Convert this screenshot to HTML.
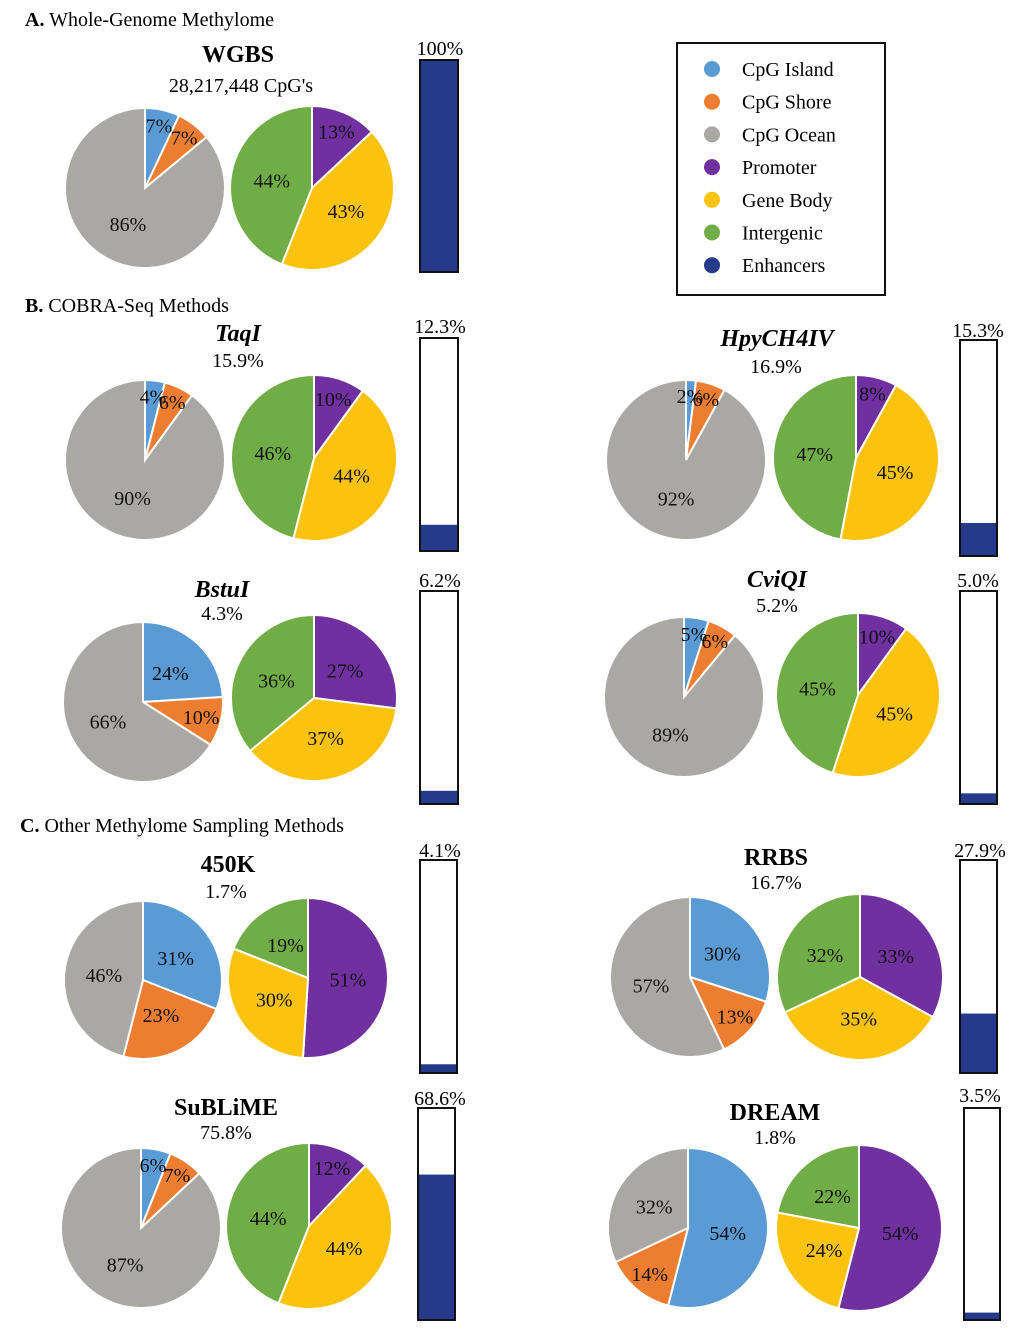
<!DOCTYPE html>
<html><head><meta charset="utf-8">
<style>
body{margin:0;background:#fff;}
svg{display:block;font-family:"Liberation Serif",serif;}
</style></head>
<body>
<svg id="fig" width="1024" height="1337" viewBox="0 0 1024 1337" xmlns="http://www.w3.org/2000/svg">
<text x="25" y="26" font-size="20"><tspan font-weight="bold">A.</tspan> Whole-Genome Methylome</text>
<text x="25" y="312" font-size="20"><tspan font-weight="bold">B.</tspan> COBRA-Seq Methods</text>
<text x="20" y="832" font-size="20"><tspan font-weight="bold">C.</tspan> Other Methylome Sampling Methods</text>
<g id="legend">
<rect x="677" y="43" width="208" height="252" fill="#fff" stroke="#111" stroke-width="2"/>
</g>
<g id="panels"></g>
</svg>
<script>
const panelNames = ["WGBS","TaqI","HpyCH4IV","BstuI","CviQI","450K","RRBS","SuBLiME","DREAM"];
const panelItalic = [false,true,true,true,true,false,false,false,false];
const subtitles = ["28,217,448 CpG's","15.9%","16.9%","4.3%","5.2%","1.7%","16.7%","75.8%","1.8%"];
const cpgIsland = [7,4,2,24,5,31,30,6,54];
const cpgShore = [7,6,6,10,6,23,13,7,14];
const cpgOcean = [86,90,92,66,89,46,57,87,32];
const promoter = [13,10,8,27,10,51,33,12,54];
const geneBody = [43,44,45,37,45,30,35,44,24];
const intergenic = [44,46,47,36,45,19,32,44,22];
const enhancer = [100,12.3,15.3,6.2,5.0,4.1,27.9,68.6,3.5];
const enhancerLabels = ["100%","12.3%","15.3%","6.2%","5.0%","4.1%","27.9%","68.6%","3.5%"];
const legendLabels = ["CpG Island","CpG Shore","CpG Ocean","Promoter","Gene Body","Intergenic","Enhancers"];
const colors = ["#5B9BD5","#ED7D31","#A9A8A5","#7030A0","#FBC20E","#70AD47","#253A8A"];

// layout (positions only)
const layout = [
 {t:[238,62],s:[241,92],p1:[145,188,80],p2:[312,188,82],b:[420,60,38,212],bl:[440,55]},
 {t:[238,341],s:[238,367],p1:[145,460,80],p2:[314,458,83],b:[420,338,38,213],bl:[440,333]},
 {t:[777,346],s:[776,373],p1:[686,460,80],p2:[856,458,83],b:[960,340,37,216],bl:[978,337]},
 {t:[222,597],s:[222,620],p1:[143,702,80],p2:[314,698,83],b:[420,591,38,213],bl:[440,587]},
 {t:[777,587],s:[777,612],p1:[684,697,80],p2:[858,695,82],b:[960,591,37,213],bl:[978,587]},
 {t:[228,872],s:[226,898],p1:[143,980,79],p2:[308,978,80],b:[420,860,37,213],bl:[440,857]},
 {t:[776,865],s:[776,889],p1:[690,977,80],p2:[860,977,83],b:[960,860,37,213],bl:[980,857]},
 {t:[226,1115],s:[226,1139],p1:[141,1228,80],p2:[309,1226,83],b:[418,1108,37,212],bl:[440,1105]},
 {t:[775,1120],s:[775,1144],p1:[688,1228,80],p2:[859,1228,83],b:[964,1108,36,212],bl:[980,1102]}
];
const NS="http://www.w3.org/2000/svg";
function mk(tag, attrs, parent){const e=document.createElementNS(NS,tag);for(const k in attrs)e.setAttribute(k,attrs[k]);parent.appendChild(e);return e;}
function pt(cx,cy,r,a){return [cx+r*Math.sin(a), cy-r*Math.cos(a)];}
function drawPie(g, cx, cy, r, vals, cols, name){
  const total=vals.reduce((a,b)=>a+b,0);
  let a0=0;
  const labels=[];
  vals.forEach((v,i)=>{
    const a1=a0+v/total*2*Math.PI;
    const [x0,y0]=pt(cx,cy,r,a0),[x1,y1]=pt(cx,cy,r,a1);
    const large=(a1-a0)>Math.PI?1:0;
    const p=mk('path',{d:`M${cx},${cy} L${x0},${y0} A${r},${r} 0 ${large} 1 ${x1},${y1} Z`,fill:cols[i],stroke:'#fff','stroke-width':2},g);
    
    
    const mid=(a0+a1)/2, frac=v<10?0.8:(v<15?0.75:0.5);
    labels.push([pt(cx,cy,r*frac,mid),v]);
    a0=a1;
  });
  labels.forEach(([[lx,ly],v])=>{
    const t=mk('text',{x:lx,y:ly+7,'font-size':20,'text-anchor':'middle',fill:'#111'},g);
    t.textContent=v+'%';
    
    
  });
}
const root=document.getElementById('panels');
panelNames.forEach((n,i)=>{
  const L=layout[i];
  const g=mk('g',{},root);
  
  
  const t=mk('text',{x:L.t[0],y:L.t[1],'font-size':24,'font-weight':'bold','font-style':panelItalic[i]?'italic':'normal','text-anchor':'middle'},g);
  t.textContent=n;
  
  
  const s=mk('text',{x:L.s[0],y:L.s[1],'font-size':20,'text-anchor':'middle'},g);
  s.textContent=subtitles[i];
  
  
  drawPie(g,L.p1[0],L.p1[1],L.p1[2],[cpgIsland[i],cpgShore[i],cpgOcean[i]],colors.slice(0,3),'cpg-pie');
  drawPie(g,L.p2[0],L.p2[1],L.p2[2],[promoter[i],geneBody[i],intergenic[i]],colors.slice(3,6),'region-pie');
  const [bx,by,bw,bh]=L.b;
  const fh=bh*enhancer[i]/100;
  const f=mk('rect',{x:bx,y:by+bh-fh,width:bw,height:fh,fill:colors[6]},g);
  
  
  const o=mk('rect',{x:bx,y:by,width:bw,height:bh,fill:'none',stroke:'#111','stroke-width':2},g);
  
  
  const bl=mk('text',{x:L.bl[0],y:L.bl[1],'font-size':20,'text-anchor':'middle'},g);
  bl.textContent=enhancerLabels[i];
  
  
});
const lg=document.getElementById('legend');
legendLabels.forEach((l,i)=>{
  const y=69+i*32.7;
  const c=mk('circle',{cx:712,cy:y,r:8,fill:colors[i]},lg);
  
  
  const t=mk('text',{x:742,y:y+7,'font-size':20},lg);
  t.textContent=l;
  
  
});
</script>
</body></html>
